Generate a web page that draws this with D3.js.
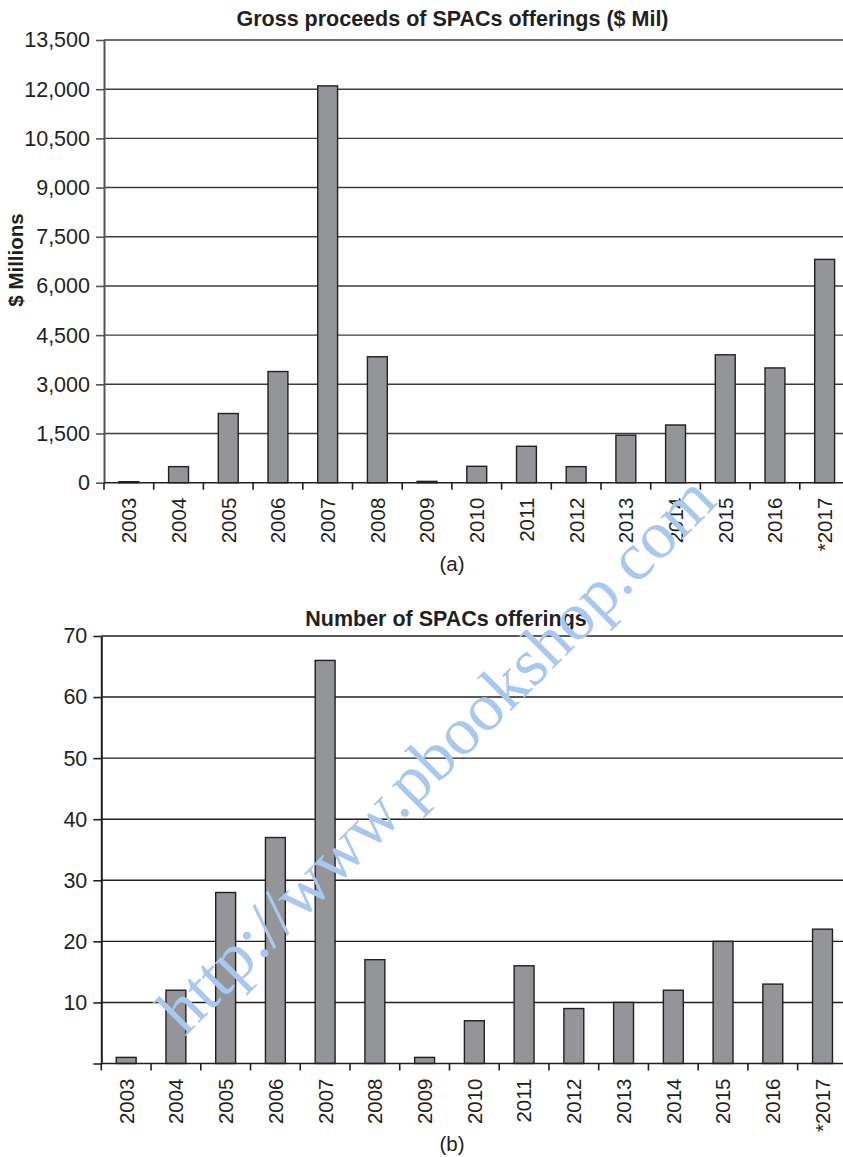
<!DOCTYPE html>
<html>
<head>
<meta charset="utf-8">
<script src="https://cdn.jsdelivr.net/npm/d3@7/dist/d3.min.js"></script>
<style>
  html, body { margin: 0; padding: 0; background: #ffffff; }
  svg { display: block; }
  text { font-family: "Liberation Sans", Arial, Helvetica, sans-serif; fill: #231f20; }
</style>
</head>
<body>
<svg id="chart" width="843" height="1157"></svg>
<script>
// Years shown on both panels (2017 is year-to-date, hence the asterisk)
const years = ["2003", "2004", "2005", "2006", "2007", "2008", "2009", "2010",
               "2011", "2012", "2013", "2014", "2015", "2016", "*2017"];

// Panel (a): gross proceeds of SPAC offerings, $ millions
const proceeds = [30, 490, 2110, 3390, 12100, 3840, 40, 500,
                  1110, 490, 1450, 1760, 3900, 3500, 6810];
const proceedsTicks = [0, 1500, 3000, 4500, 6000, 7500, 9000, 10500, 12000, 13500];

// Panel (b): number of SPAC offerings
const counts = [1, 12, 28, 37, 66, 17, 1, 7, 16, 9, 10, 12, 20, 13, 22];
const countTicks = [0, 10, 20, 30, 40, 50, 60, 70];

const svg = d3.select("#chart");
const BAR_FILL = "#939598";
const INK = "#231f20";

function drawPanel(o) {
  const g = svg.append("g");
  const x = d3.scaleBand()
    .domain(years)
    .range([o.left, o.right])
    .paddingInner(0.6)
    .paddingOuter(0.3);
  const y = d3.scaleLinear()
    .domain([0, o.max])
    .range([o.bottom, o.top]);

  // horizontal gridlines
  g.append("g").selectAll("line")
    .data(o.ticks.filter(t => t > 0))
    .join("line")
    .attr("x1", o.left).attr("x2", o.right)
    .attr("y1", d => y(d)).attr("y2", d => y(d))
    .attr("stroke", o.gridColor)
    .attr("stroke-width", 1.4);

  // bars
  g.append("g").selectAll("rect")
    .data(o.values)
    .join("rect")
    .attr("x", (d, i) => x(years[i]))
    .attr("width", x.bandwidth())
    .attr("y", d => y(d))
    .attr("height", d => y(0) - y(d))
    .attr("fill", BAR_FILL)
    .attr("stroke", INK)
    .attr("stroke-width", 1.4);

  // y axis
  const yAxis = d3.axisLeft(y)
    .tickValues(o.ticks)
    .tickSize(8)
    .tickSizeOuter(0)
    .tickPadding(6)
    .tickFormat(o.fmt);
  const ya = g.append("g")
    .attr("transform", `translate(${o.left},0)`)
    .call(yAxis);
  ya.select(".domain").attr("stroke", o.axisColor).attr("stroke-width", 2);
  ya.selectAll(".tick line").attr("stroke", o.axisColor).attr("stroke-width", 1.6);
  ya.selectAll(".tick text")
    .style("font-size", "21.5px")
    .attr("fill", INK);
  if (o.hideZeroLabel) ya.selectAll(".tick text").filter(d => d === 0).remove();

  // x axis baseline with tick marks between categories
  const step = x.step();
  g.append("line")
    .attr("x1", o.left).attr("x2", o.right)
    .attr("y1", y(0)).attr("y2", y(0))
    .attr("stroke", INK).attr("stroke-width", 1.6);
  g.append("g").selectAll("line")
    .data(d3.range(years.length + 1))
    .join("line")
    .attr("x1", i => o.left + i * step).attr("x2", i => o.left + i * step)
    .attr("y1", y(0)).attr("y2", y(0) + 7)
    .attr("stroke", INK).attr("stroke-width", 1.6);

  // rotated category labels
  const xAxis = d3.axisBottom(x).tickSize(0).tickPadding(0);
  const xa = g.append("g")
    .attr("transform", `translate(0,${y(0)})`)
    .call(xAxis);
  xa.select(".domain").remove();
  xa.selectAll(".tick text")
    .style("font-size", "20.5px")
    .attr("fill", INK)
    .attr("text-anchor", "end")
    .attr("transform", "rotate(-90)")
    .attr("x", -15)
    .attr("y", 0)
    .attr("dy", "0.36em");

  // title
  g.append("text")
    .attr("x", o.titleX).attr("y", o.titleY)
    .attr("text-anchor", "middle")
    .style("font-size", "21.5px")
    .style("font-weight", "bold")
    .text(o.title);

  // panel letter
  g.append("text")
    .attr("x", 452).attr("y", o.letterY)
    .attr("text-anchor", "middle")
    .style("font-size", "20.5px")
    .text(o.letter);

  return g;
}

drawPanel({
  values: proceeds, ticks: proceedsTicks, max: 13500,
  left: 104, right: 849.5, top: 40, bottom: 482.7,
  fmt: d3.format(","), hideZeroLabel: false,
  gridColor: "#3d3d3d", axisColor: "#555555",
  title: "Gross proceeds of SPACs offerings ($ Mil)", titleX: 452.5, titleY: 26,
  letter: "(a)", letterY: 571
});

drawPanel({
  values: counts, ticks: countTicks, max: 70,
  left: 101.3, right: 847.4, top: 636, bottom: 1063.5,
  fmt: d3.format("d"), hideZeroLabel: true,
  gridColor: INK, axisColor: INK,
  title: "Number of SPACs offerings", titleX: 446, titleY: 626,
  letter: "(b)", letterY: 1151
});

// y-axis title for panel (a)
svg.append("text")
  .attr("transform", "translate(23,260) rotate(-90)")
  .attr("text-anchor", "middle")
  .style("font-size", "20.5px")
  .style("font-weight", "bold")
  .text("$ Millions");

// diagonal stamp across the page
svg.append("text")
  .attr("transform", "translate(452,770) rotate(-45)")
  .attr("text-anchor", "middle")
  .style("font-family", "'Liberation Serif', 'Times New Roman', serif")
  .style("font-size", "68px")
  .style("fill", "#a9c8f0")
  .text("http://www.pbookshop.com");
</script>
</body>
</html>
